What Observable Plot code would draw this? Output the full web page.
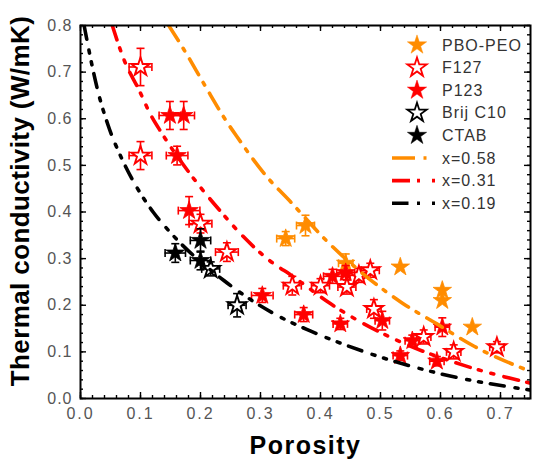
<!DOCTYPE html>
<html><head><meta charset="utf-8">
<script src="https://cdn.jsdelivr.net/npm/d3@7"></script>
<script src="https://cdn.jsdelivr.net/npm/@observablehq/plot@0.6"></script>
<style>
body{margin:0;background:#fff;font-family:"Liberation Sans",Arial,sans-serif;}
#wrap{position:relative;width:534px;height:465px;}
#legend{position:absolute;left:0;top:0;pointer-events:none;}
g[aria-label="x-axis tick label"] text{letter-spacing:2px;}
g[aria-label="y-axis tick label"] text{letter-spacing:1px;}
</style></head><body><div id="wrap"></div>
<script>
// ---- data ----
const pboPorosity = [0.342, 0.375, 0.442, 0.533, 0.603, 0.603, 0.653];
const pboK        = [0.343, 0.371, 0.290, 0.282, 0.232, 0.210, 0.153];
const pboPErr     = [0.015, 0.015, 0.012, 0, 0, 0, 0];
const pboKErr     = [0.015, 0.022, 0.020, 0, 0, 0, 0];

const f127Porosity = [0.100, 0.100, 0.200, 0.244, 0.353, 0.400, 0.444, 0.464, 0.483, 0.489, 0.572, 0.622, 0.694];
const f127K        = [0.711, 0.521, 0.375, 0.314, 0.242, 0.242, 0.239, 0.264, 0.275, 0.192, 0.132, 0.100, 0.110];
const f127PErr     = [0.019, 0.019, 0.019, 0.019, 0.015, 0.015, 0.015, 0.015, 0.015, 0.012, 0.012, 0.012, 0.012];
const f127KErr     = [0.040, 0.030, 0.020, 0.020, 0.020, 0.015, 0.015, 0.015, 0.015, 0.020, 0.015, 0.015, 0.012];

const p123Porosity = [0.149, 0.172, 0.161, 0.181, 0.303, 0.372, 0.420, 0.442, 0.433, 0.503, 0.533, 0.553, 0.594, 0.603];
const p123K        = [0.607, 0.607, 0.521, 0.403, 0.221, 0.180, 0.262, 0.270, 0.160, 0.167, 0.092, 0.124, 0.080, 0.153];
const p123PErr     = [0.018, 0.018, 0.018, 0.018, 0.018, 0.015, 0.015, 0.015, 0.012, 0.012, 0.012, 0.012, 0.012, 0.012];
const p123KErr     = [0.030, 0.030, 0.020, 0.030, 0.015, 0.015, 0.015, 0.015, 0.012, 0.020, 0.010, 0.012, 0.010, 0.020];

const brijPorosity = [0.217, 0.261];
const brijK        = [0.278, 0.200];
const brijPErr     = [0.015, 0.015];
const brijKErr     = [0.015, 0.025];

const ctabPorosity = [0.158, 0.200, 0.200];
const ctabK        = [0.312, 0.339, 0.296];
const ctabPErr     = [0.017, 0.017, 0.017];
const ctabKErr     = [0.020, 0.025, 0.020];

// model curves
const curve058P = [0.147, 0.173, 0.207, 0.244, 0.260, 0.311, 0.350, 0.411, 0.478, 0.536, 0.594, 0.656, 0.750];
const curve058K = [0.800, 0.747, 0.672, 0.593, 0.563, 0.475, 0.422, 0.337, 0.260, 0.205, 0.160, 0.112, 0.058];
const curve031P = [0.053, 0.073, 0.097, 0.118, 0.136, 0.200, 0.233, 0.267, 0.311, 0.356, 0.417, 0.522, 0.639, 0.750];
const curve031K = [0.800, 0.725, 0.663, 0.606, 0.568, 0.453, 0.402, 0.353, 0.300, 0.260, 0.203, 0.128, 0.071, 0.033];
const curve019P = [0.006, 0.030, 0.046, 0.069, 0.092, 0.121, 0.147, 0.239, 0.328, 0.381, 0.483, 0.600, 0.750];
const curve019K = [0.800, 0.654, 0.586, 0.514, 0.457, 0.400, 0.360, 0.253, 0.178, 0.146, 0.096, 0.053, 0.018];

const xTickValues = [0, 0.1, 0.2, 0.3, 0.4, 0.5, 0.6, 0.7];
const yTickValues = [0, 0.1, 0.2, 0.3, 0.4, 0.5, 0.6, 0.7, 0.8];
const xTitle = "Porosity";
const yTitle = "Thermal conductivity (W/mK)";

// ---- build ----
const ORANGE = "#ff8c00", RED = "#ff0000", BLACK = "#000000";
const series = [
  {name: "PBO-PEO", p: pboPorosity, k: pboK, pe: pboPErr, ke: pboKErr, color: ORANGE, open: false},
  {name: "F127", p: f127Porosity, k: f127K, pe: f127PErr, ke: f127KErr, color: RED, open: true},
  {name: "P123", p: p123Porosity, k: p123K, pe: p123PErr, ke: p123KErr, color: RED, open: false},
  {name: "Brij C10", p: brijPorosity, k: brijK, pe: brijPErr, ke: brijKErr, color: BLACK, open: true},
  {name: "CTAB", p: ctabPorosity, k: ctabK, pe: ctabPErr, ke: ctabKErr, color: BLACK, open: false}
];
const curves = [
  {name: "x=0.58", p: curve058P, k: curve058K, color: ORANGE, dash: "18,9,3,9.5", legendDash: "23,8.5,3,100"},
  {name: "x=0.31", p: curve031P, k: curve031K, color: RED, dash: "15,8.5,3,10,3,10.5", legendDash: "18,7,3,12,3,100"},
  {name: "x=0.19", p: curve019P, k: curve019K, color: BLACK, dash: "14,11,3,9,3,9", legendDash: "16.5,8.5,3,12,3,100"}
];

const W = 534, H = 465, mL = 80, mR = 4, mT = 25, mB = 67;
const innerW = W - mL - mR, innerH = H - mT - mB;

const hCap = {draw(ctx) { ctx.moveTo(-4, 0); ctx.lineTo(4, 0); }};
const vCap = {draw(ctx) { ctx.moveTo(0, -4); ctx.lineTo(0, 4); }};

const marks = [];
for (const s of series) {
  const rows = s.p.map((p, i) => ({p, k: s.k[i], pe: s.pe[i], ke: s.ke[i]}));
  const xe = rows.filter(d => d.pe > 0), ye = rows.filter(d => d.ke > 0);
  marks.push(
    Plot.ruleY(xe, {y: "k", x1: d => d.p - d.pe, x2: d => d.p + d.pe, stroke: s.color, strokeWidth: 1.6}),
    Plot.ruleX(ye, {x: "p", y1: d => d.k - d.ke, y2: d => d.k + d.ke, stroke: s.color, strokeWidth: 1.6}),
    Plot.dot(xe, {x: d => d.p - d.pe, y: "k", symbol: vCap, fill: "none", stroke: s.color, strokeWidth: 1.6, r: 3}),
    Plot.dot(xe, {x: d => d.p + d.pe, y: "k", symbol: vCap, fill: "none", stroke: s.color, strokeWidth: 1.6, r: 3}),
    Plot.dot(ye, {x: "p", y: d => d.k - d.ke, symbol: hCap, fill: "none", stroke: s.color, strokeWidth: 1.6, r: 3}),
    Plot.dot(ye, {x: "p", y: d => d.k + d.ke, symbol: hCap, fill: "none", stroke: s.color, strokeWidth: 1.6, r: 3}),
    Plot.dot(rows, {x: "p", y: "k", symbol: "star", r: 5.8,
      fill: s.open ? "white" : s.color, stroke: s.color, strokeWidth: s.open ? 1.9 : 0.8})
  );
}
for (const c of curves) {
  const rows = c.p.map((p, i) => ({p, k: c.k[i]}));
  marks.push(Plot.line(rows, {x: "p", y: "k", stroke: c.color, strokeWidth: 3.6,
    strokeDasharray: c.dash, curve: "monotone-x", clip: true}));
}

const xMinor = d3.range(0, 0.7501, 0.02);
const yMinor = d3.range(0, 0.8001, 0.02);
const tickStyle = {stroke: "black", strokeWidth: 1.4};
marks.push(
  Plot.tickX(xMinor, {x: d => d, insetTop: innerH - 3, ...tickStyle}),
  Plot.tickX(xTickValues, {x: d => d, insetTop: innerH - 6, ...tickStyle}),
  Plot.tickX(xMinor, {x: d => d, insetBottom: innerH - 3, ...tickStyle}),
  Plot.tickX(xTickValues, {x: d => d, insetBottom: innerH - 6, ...tickStyle}),
  Plot.tickY(yMinor, {y: d => d, insetRight: innerW - 3, ...tickStyle}),
  Plot.tickY(yTickValues, {y: d => d, insetRight: innerW - 6, ...tickStyle}),
  Plot.tickY(yMinor, {y: d => d, insetLeft: innerW - 3, ...tickStyle}),
  Plot.tickY(yTickValues, {y: d => d, insetLeft: innerW - 6, ...tickStyle}),
  Plot.frame({stroke: "black", strokeWidth: 2}),
  Plot.axisX({ticks: xTickValues, tickSize: 0, tickPadding: 9, tickFormat: d3.format(".1f"), fontSize: 16, color: "#555", label: null}),
  Plot.axisY({ticks: yTickValues, tickSize: 0, tickPadding: 8, tickFormat: d3.format(".1f"), fontSize: 16, color: "#555", label: null}),
  Plot.text([xTitle], {text: d => d, frameAnchor: "bottom", textAnchor: "middle", dy: 55, fontSize: 25, fontWeight: "bold", fill: "black", className: "xtitle"}),
  Plot.text([yTitle], {text: d => d, frameAnchor: "left", textAnchor: "middle", dx: -60, dy: -11, rotate: -90, fontSize: 26, fontWeight: "bold", fill: "black", className: "ytitle"})
);

const chart = Plot.plot({
  width: W, height: H,
  marginLeft: mL, marginRight: mR, marginTop: mT, marginBottom: mB,
  x: {domain: [0, 0.75]},
  y: {domain: [0, 0.8]},
  style: {fontFamily: '"Liberation Sans", Arial, sans-serif', background: "white", overflow: "visible"},
  marks
});
d3.select(chart).selectAll(".xtitle text").attr("letter-spacing", "1.5px");
d3.select(chart).selectAll(".ytitle text").attr("letter-spacing", "0.4px");
const wrap = document.getElementById("wrap");
wrap.appendChild(chart);

// ---- legend overlay ----
const leg = d3.select(wrap).append("svg").attr("id", "legend").attr("width", W).attr("height", H);
const starPath = d3.symbol(d3.symbolStar, 115)();
const rowY0 = 45, rowStep = 22.6, starX = 417, textX = 442;
series.forEach((s, i) => {
  const y = rowY0 + i * rowStep;
  leg.append("path").attr("d", starPath).attr("transform", `translate(${starX},${y})`)
    .attr("fill", s.open ? "white" : s.color).attr("stroke", s.color).attr("stroke-width", s.open ? 1.8 : 0.5);
  leg.append("text").attr("x", textX).attr("y", y).attr("dy", "0.35em").text(s.name)
    .attr("font-size", 16).attr("fill", "#333").attr("letter-spacing", "1px")
    .attr("font-family", '"Liberation Sans", Arial, sans-serif');
});
curves.forEach((c, j) => {
  const y = rowY0 + (series.length + j) * rowStep;
  leg.append("path").attr("d", `M392,${y}H436`).attr("stroke", c.color).attr("stroke-width", 3.6)
    .attr("stroke-dasharray", c.legendDash).attr("fill", "none");
  leg.append("text").attr("x", textX).attr("y", y).attr("dy", "0.35em").text(c.name)
    .attr("font-size", 16).attr("fill", "#333").attr("letter-spacing", "1px")
    .attr("font-family", '"Liberation Sans", Arial, sans-serif');
});
</script></body></html>
